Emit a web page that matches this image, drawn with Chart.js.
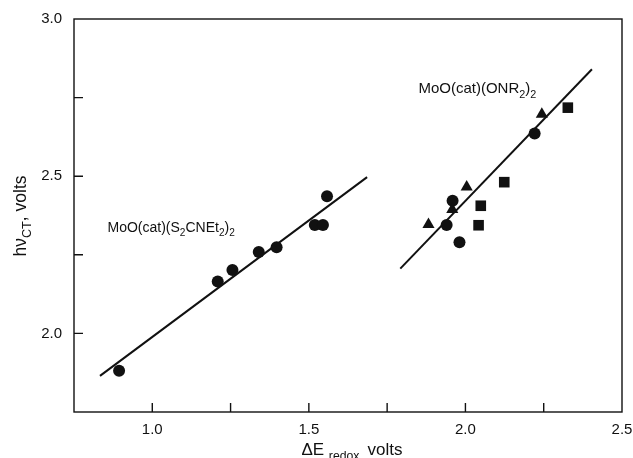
<!DOCTYPE html>
<html>
<head>
<meta charset="utf-8">
<script src="https://cdn.jsdelivr.net/npm/chart.js@4"></script>
<style>
  html, body { margin: 0; padding: 0; background: #fff; }
  #wrap { width: 633px; height: 458px; }
</style>
</head>
<body>
<div id="wrap"><canvas id="chart" width="633" height="458"></canvas></div>
<script>
// S2CNEt2 series (circles)
const dtcX = [0.894, 1.209, 1.256, 1.340, 1.397, 1.519, 1.545, 1.558]
const dtcY = [1.881, 2.165, 2.202, 2.259, 2.274, 2.345, 2.345, 2.436]

// ONR2 series
const triX = [1.882, 1.958, 2.004, 2.244]
const triY = [2.346, 2.394, 2.466, 2.697]
const cirX = [1.940, 1.959, 1.981, 2.221]
const cirY = [2.345, 2.422, 2.290, 2.636]
const sqX = [2.042, 2.049, 2.124, 2.327]
const sqY = [2.344, 2.406, 2.481, 2.718]

// fitted lines (end points)
const fitLeftX = [0.833, 1.686]
const fitLeftY = [1.865, 2.497]
const fitRightX = [1.792, 2.404]
const fitRightY = [2.206, 2.840]

const xLabelValues = [1.0, 1.5, 2.0, 2.5]
const yLabelValues = [2.0, 2.5, 3.0]

const FONT = '"Liberation Sans", Arial, sans-serif'
const INK = '#111'

const pts = (xs, ys) => xs.map((x, i) => ({ x, y: ys[i] }))

// label anchors in data units
const labels = [
    { x: 0.857, y: 2.322, size: 14, parts: [['MoO(cat)(S'], ['2', 1], ['CNEt'], ['2', 1], [')'], ['2', 1]] },
    { x: 1.85, y: 2.764, size: 15, parts: [['MoO(cat)(ONR'], ['2', 1], [')'], ['2', 1]] }
]

function drawRich(ctx, parts, x, y, size, align) {
    const widths = parts.map(([t, sub]) => {
        ctx.font = `${sub ? size * 0.72 : size}px ${FONT}`
        return ctx.measureText(t).width
    })
    const total = widths.reduce((a, b) => a + b, 0)
    let cx = align === 'center' ? x - total / 2 : x
    parts.forEach(([t, sub], i) => {
        ctx.font = `${sub ? size * 0.72 : size}px ${FONT}`
        ctx.fillText(t, cx, sub ? y + size * 0.3 : y)
        cx += widths[i]
    })
}

const decor = {
    id: 'decor',
    afterDatasetsDraw(chart) {
        const { ctx, chartArea: a, scales: { x, y } } = chart
        ctx.save()
        ctx.strokeStyle = INK
        ctx.lineWidth = 1.4
        ctx.strokeRect(a.left, a.top, a.right - a.left, a.bottom - a.top)

        ctx.beginPath()
        x.ticks.forEach(t => {
            if (t.value <= x.min || t.value >= x.max) return
            const px = x.getPixelForValue(t.value)
            ctx.moveTo(px, a.bottom)
            ctx.lineTo(px, a.bottom - 9)
        })
        y.ticks.forEach(t => {
            if (t.value <= y.min || t.value >= y.max) return
            const py = y.getPixelForValue(t.value)
            ctx.moveTo(a.left, py)
            ctx.lineTo(a.left + 9, py)
        })
        ctx.stroke()

        ctx.fillStyle = INK
        ctx.textBaseline = 'alphabetic'
        ctx.textAlign = 'left'
        labels.forEach(l => {
            drawRich(ctx, l.parts, x.getPixelForValue(l.x), y.getPixelForValue(l.y), l.size, 'left')
        })

        // axis titles
        drawRich(ctx, [['ΔE '], ['redox,', 1], [' volts']], 352, 455, 17, 'center')

        ctx.translate(26, 216)
        ctx.rotate(-Math.PI / 2)
        drawRich(ctx, [['hν'], ['CT', 1], [', volts']], 0, 0, 17.5, 'center')
        ctx.restore()
    }
}

const marker = (data, style, r) => ({
    type: 'scatter',
    data,
    pointStyle: style,
    pointRadius: r,
    pointHoverRadius: r,
    backgroundColor: INK,
    borderColor: INK,
    borderWidth: 0
})

const fit = data => ({
    type: 'line',
    data,
    borderColor: INK,
    borderWidth: 2,
    pointRadius: 0,
    fill: false
})

new Chart(document.getElementById('chart'), {
    type: 'scatter',
    data: {
        datasets: [
            fit(pts(fitLeftX, fitLeftY)),
            fit(pts(fitRightX, fitRightY)),
            marker(pts(dtcX, dtcY), 'circle', 6),
            marker(pts(triX, triY), 'triangle', 7),
            marker(pts(cirX, cirY), 'circle', 6),
            marker(pts(sqX, sqY), 'rect', 7.5)
        ]
    },
    options: {
        responsive: false,
        animation: false,
        devicePixelRatio: 1,
        layout: { padding: { top: 19, right: 11, left: 0, bottom: 0 } },
        plugins: { legend: { display: false }, tooltip: { enabled: false } },
        scales: {
            x: {
                type: 'linear',
                min: 0.75,
                max: 2.5,
                grid: { display: false, drawTicks: false },
                border: { display: false },
                ticks: {
                    stepSize: 0.25,
                    autoSkip: false,
                    maxRotation: 0,
                    padding: 9,
                    color: INK,
                    font: { family: FONT, size: 15 },
                    callback: v => xLabelValues.includes(v) ? v.toFixed(1) : ''
                },
                afterFit: s => {
                    s.height = 46
                    s.paddingLeft = 0
                    s.paddingRight = 0
                }
            },
            y: {
                type: 'linear',
                min: 1.75,
                max: 3.0,
                grid: { display: false, drawTicks: false },
                border: { display: false },
                ticks: {
                    stepSize: 0.25,
                    autoSkip: false,
                    padding: 12,
                    color: INK,
                    font: { family: FONT, size: 15 },
                    callback: v => yLabelValues.includes(v) ? v.toFixed(1) : ''
                },
                afterFit: s => {
                    s.width = 74
                    s.paddingTop = 0
                    s.paddingBottom = 0
                }
            }
        }
    },
    plugins: [decor]
})
</script>
</body>
</html>
